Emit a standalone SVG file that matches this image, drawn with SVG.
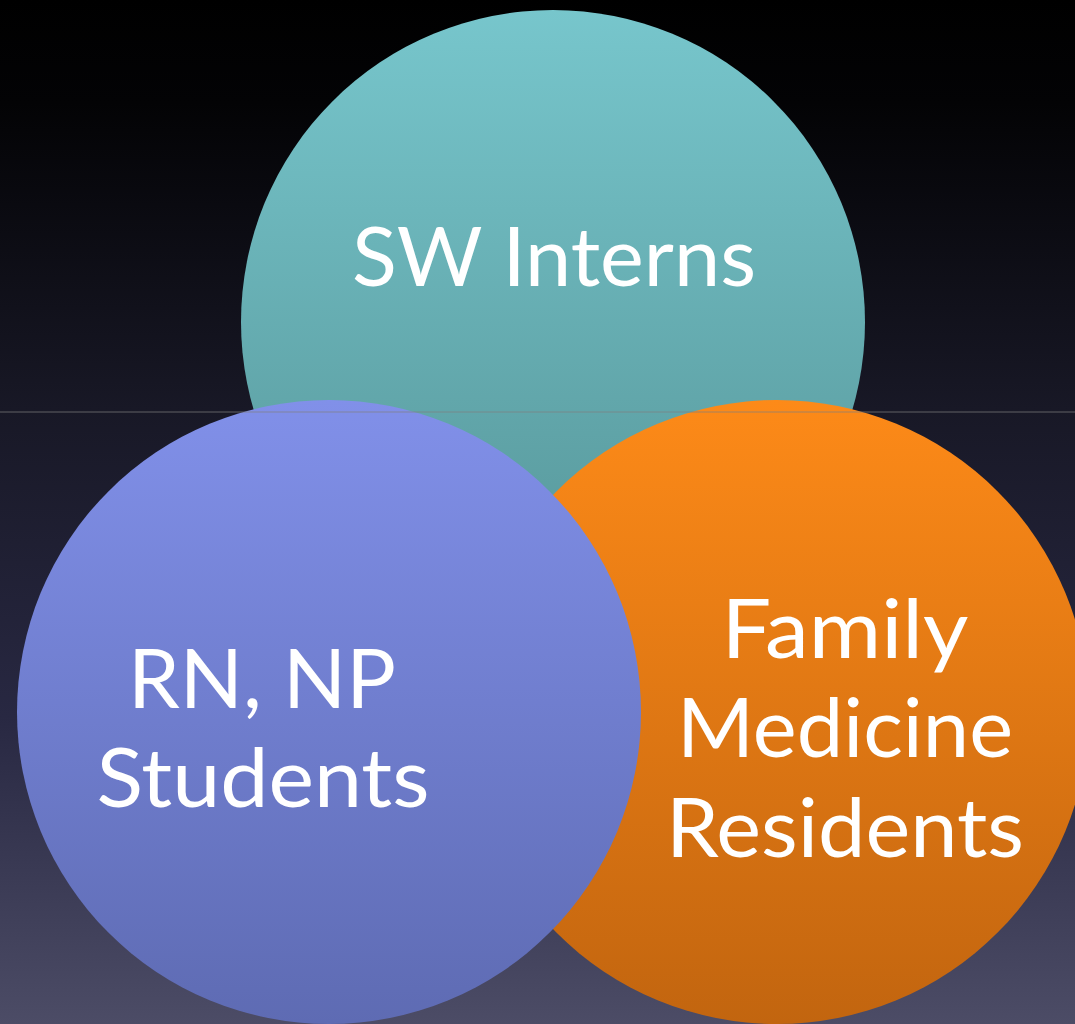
<svg xmlns="http://www.w3.org/2000/svg" width="1075" height="1024" viewBox="0 0 1075 1024">
<defs>
<linearGradient id="bg" x1="0" y1="0" x2="0" y2="1">
<stop offset="0" stop-color="#000000"/>
<stop offset="0.1" stop-color="#030305"/>
<stop offset="0.4" stop-color="#181826"/>
<stop offset="0.7" stop-color="#282842"/>
<stop offset="1" stop-color="#4c4c66"/>
</linearGradient>
<linearGradient id="gTeal" x1="0" y1="0" x2="0" y2="1">
<stop offset="0" stop-color="#77c6cc"/>
<stop offset="1" stop-color="#559497"/>
</linearGradient>
<linearGradient id="gBlue" x1="0" y1="0" x2="0" y2="1">
<stop offset="0" stop-color="#8190e9"/>
<stop offset="1" stop-color="#5e6bb3"/>
</linearGradient>
<linearGradient id="gOrange" x1="0" y1="0" x2="0" y2="1">
<stop offset="0" stop-color="#fd8a18"/>
<stop offset="1" stop-color="#c2650f"/>
</linearGradient>
<style>
.lbl{font-family:Lato,"Open Sans","Noto Sans",sans-serif;fill:#ffffff;text-anchor:middle;font-size:81px}
</style>
</defs>
<rect x="0" y="0" width="1075" height="1024" fill="url(#bg)"/>
<g id="node-sw">
<circle cx="553" cy="322" r="312" fill="url(#gTeal)"/>
<text class="lbl" x="554" y="286" textLength="404" lengthAdjust="spacingAndGlyphs">SW Interns</text>
</g>
<g id="node-fm">
<circle cx="777" cy="712" r="312" fill="url(#gOrange)"/>
<text class="lbl" x="845" y="658" textLength="247" lengthAdjust="spacingAndGlyphs">Family</text>
<text class="lbl" x="845" y="757" textLength="336" lengthAdjust="spacingAndGlyphs">Medicine</text>
<text class="lbl" x="845" y="857" textLength="358" lengthAdjust="spacingAndGlyphs">Residents</text>
</g>
<g id="node-rn">
<circle cx="329" cy="712" r="312" fill="url(#gBlue)"/>
<text class="lbl" x="262" y="708" textLength="268" lengthAdjust="spacingAndGlyphs">RN, NP</text>
<text class="lbl" x="263" y="807" textLength="333" lengthAdjust="spacingAndGlyphs">Students</text>
</g>
<g id="connectors">
<line x1="0" y1="412" x2="1075" y2="412" stroke="#808080" stroke-opacity="0.7" stroke-width="1.2"/>
</g>
</svg>
